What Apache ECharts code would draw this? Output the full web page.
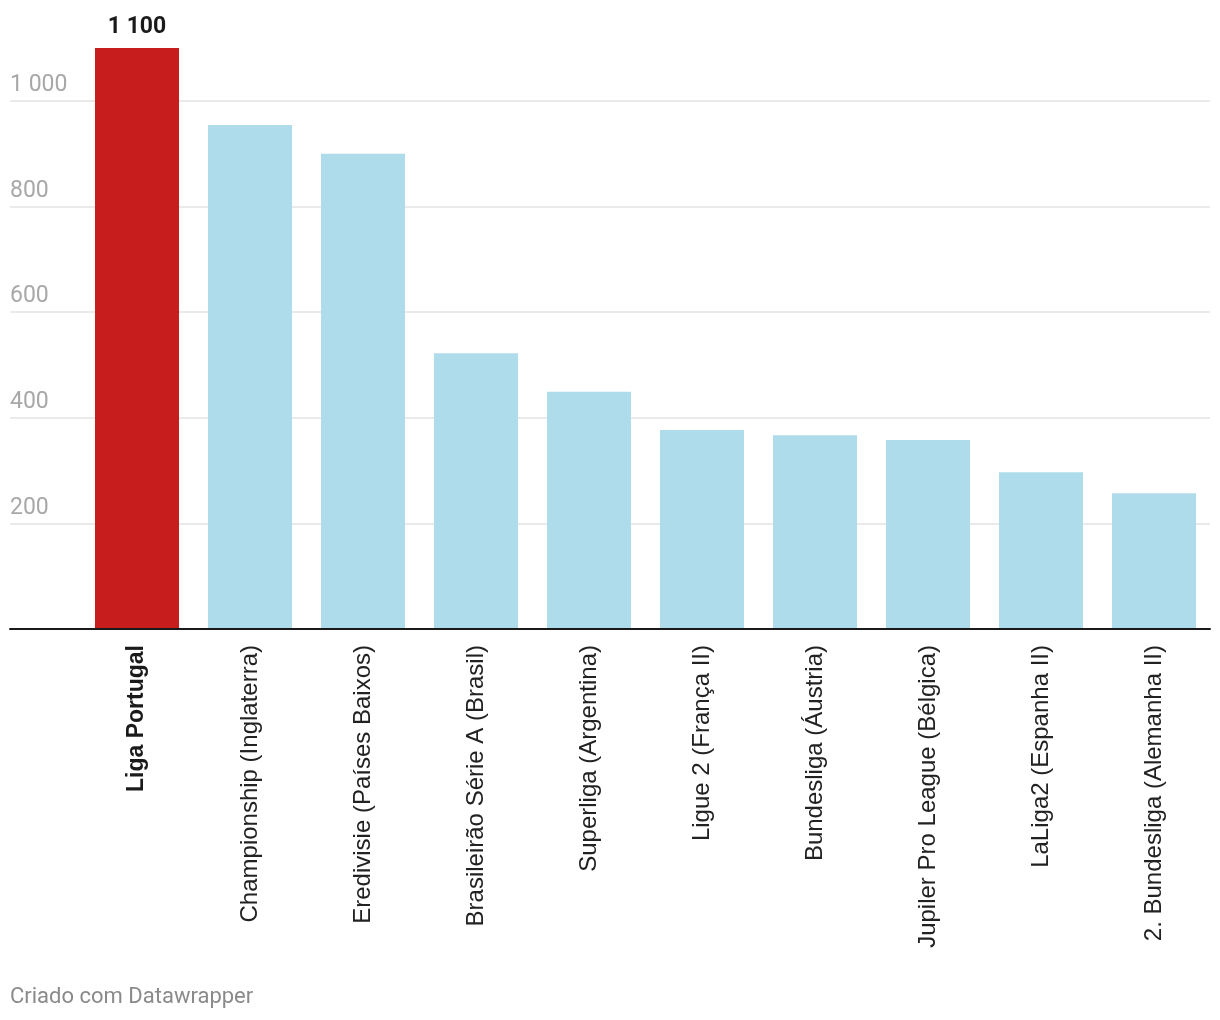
<!DOCTYPE html>
<html>
<head>
<meta charset="utf-8">
<script src="https://cdn.jsdelivr.net/npm/echarts@6/dist/echarts.min.js"></script>
<style>
html,body{margin:0;padding:0;background:#fff;}
#chart{width:1220px;height:1020px;}
</style>
</head>
<body>
<div id="chart"></div>
<script>
const categories = [
  "Liga Portugal",
  "Championship (Inglaterra)",
  "Eredivisie (Países Baixos)",
  "Brasileirão Série A (Brasil)",
  "Superliga (Argentina)",
  "Ligue 2 (França II)",
  "Bundesliga (Áustria)",
  "Jupiler Pro League (Bélgica)",
  "LaLiga2 (Espanha II)",
  "2. Bundesliga (Alemanha II)"
];
const values = [1100, 954, 900, 522, 449, 377, 367, 358, 297, 257];
const highlightIndex = 0;
const yTicks = [0, 200, 400, 600, 800, 1000];
const footerText = "Criado com Datawrapper";

const fmt = v => String(v).replace(/\B(?=(\d{3})+(?!\d))/g, " ");

const chart = echarts.init(document.getElementById('chart'), null, {renderer: 'canvas'});
const gridTop = 48, gridBottom = 391;
const option = {
  animation: false,
  backgroundColor: '#ffffff',
  grid: [
    {left: 10, right: 10, top: gridTop, bottom: gridBottom},
    {left: 80.5, right: 9.5, top: gridTop, bottom: gridBottom}
  ],
  xAxis: [
    {
      type: 'category', gridIndex: 0, data: [''],
      z: 10,
      axisLine: {show: true, lineStyle: {color: '#1a1a1a', width: 2}},
      axisTick: {show: false}, axisLabel: {show: false}, splitLine: {show: false}
    },
    {
      type: 'category', gridIndex: 1,
      data: categories.map((c, i) => i === highlightIndex
        ? {value: c, textStyle: {fontWeight: 'bold', fontSize: 23, color: '#1a1a1a'}}
        : c),
      axisLine: {show: false}, axisTick: {show: false},
      axisLabel: {
        rotate: 90, interval: 0, margin: 16,
        fontFamily: 'Liberation Sans, Arial, sans-serif', fontSize: 24, color: '#222'
      }
    }
  ],
  yAxis: [
    {
      type: 'value', gridIndex: 0, min: 0, max: 1100, interval: 200,
      axisLine: {show: false}, axisTick: {show: false},
      splitLine: {show: true, showMinLine: false, showMaxLine: false, lineStyle: {color: '#e3e3e3', width: 1.5}},
      axisLabel: {
        inside: true, showMinLabel: false, showMaxLabel: false,
        verticalAlign: 'bottom', align: 'left', margin: 0, padding: [0, 0, 4, 0],
        fontFamily: 'Roboto', fontSize: 23, color: '#a8a8a8',
        formatter: v => (yTicks.includes(v) && v !== 0) ? fmt(v) : ''
      }
    },
    {
      type: 'value', gridIndex: 1, min: 0, max: 1100, interval: 200,
      show: false, splitLine: {show: false}
    }
  ],
  series: [{
    type: 'bar', xAxisIndex: 1, yAxisIndex: 1,
    barWidth: 84,
    data: values.map((v, i) => ({
      value: v,
      itemStyle: {color: i === highlightIndex ? '#c71e1d' : '#aedcea'},
      label: i === highlightIndex ? {
        show: true, position: 'top', distance: 9,
        formatter: p => fmt(p.value),
        fontFamily: 'Roboto', fontWeight: 'bold', fontSize: 23, color: '#1a1a1a'
      } : {show: false}
    }))
  }],
  graphic: [{
    type: 'text', left: 10, top: 986,
    style: {text: footerText, fontFamily: 'Roboto', fontSize: 22, fill: '#8a8a8a'}
  }]
};
chart.setOption(option);
</script>
</body>
</html>
